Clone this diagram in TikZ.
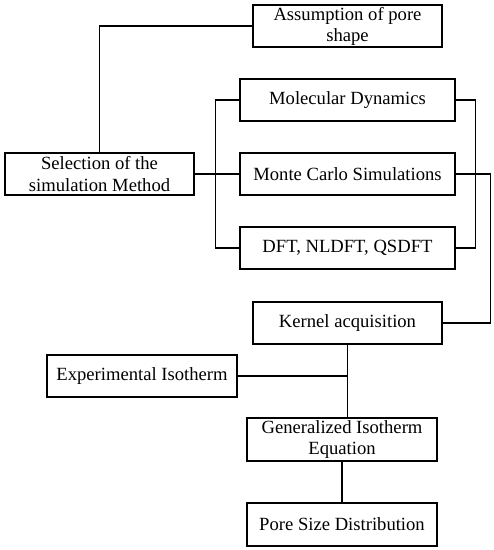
\documentclass[tikz,border=0pt]{standalone}
\usepackage{fontspec}
\setmainfont{Liberation Serif}
\tikzset{
  stage/.style={draw, rectangle, minimum width=3.78cm, minimum height=0.84cm,
    align=center, inner sep=1pt, font=\fontsize{10.6}{12}\selectfont},
  method/.style={stage, minimum width=4.30cm}
}
\begin{document}
\begin{tikzpicture}[line width=0.7pt]
  % page frame
  \useasboundingbox (0,0) rectangle (9.88,-11);
  % upper part
  \node[stage] (assume) at (6.95,-0.52) {Assumption of pore\\shape};
  \node[stage] (select) at (1.99,-3.48) {Selection of the\\simulation Method};
  % simulation methods
  \node[method] (md)  at (6.95,-2.00) {Molecular Dynamics};
  \node[method] (mc)  at (6.95,-3.48) {Monte Carlo Simulations};
  \node[method] (dft) at (6.95,-4.96) {DFT, NLDFT, QSDFT};
  % lower part
  \node[stage] (kernel) at (6.95,-6.46) {Kernel acquisition};
  \node[stage, minimum width=3.80cm] (expt) at (2.84,-7.52) {Experimental Isotherm};
  \node[stage, minimum width=3.80cm, minimum height=0.86cm] (gen) at (6.84,-8.79) {Generalized Isotherm\\Equation};
  \node[stage, minimum width=3.80cm, minimum height=0.86cm] (psd) at (6.84,-10.49) {Pore Size Distribution};
  % connectors
  \draw (assume.west) -| (select.north);
  \draw (select.east) -- (mc.west);
  \draw (md.west) -- ++(-0.48,0) |- (dft.west);
  \draw (md.east) -- ++(0.40,0) |- (dft.east);
  \draw (mc.east) -- ++(0.70,0) |- (kernel.east);
  \draw (kernel.south) -- (kernel.south |- gen.north);
  \draw (expt.east) -- (expt.east -| kernel.south);
  \draw (gen.south) -- (psd.north);
\end{tikzpicture}
\end{document}
